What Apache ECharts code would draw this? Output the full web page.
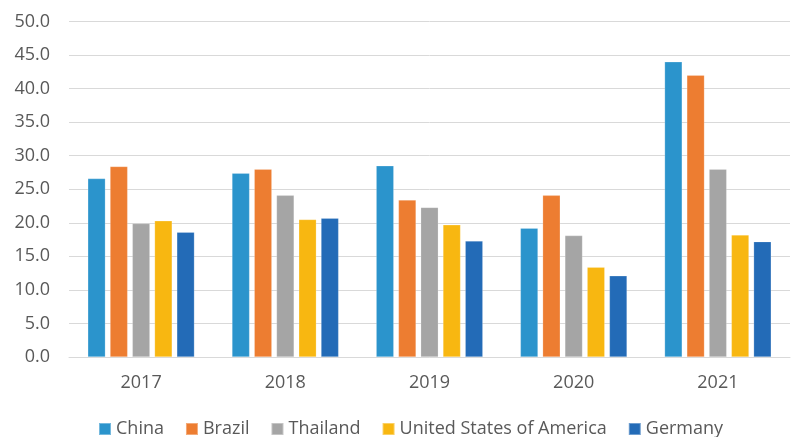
<!DOCTYPE html>
<html><head><meta charset="utf-8">
<script src="https://cdn.jsdelivr.net/npm/echarts@6/dist/echarts.min.js"></script>
<style>html,body{margin:0;padding:0;background:#fff}#c{width:795px;height:437px}</style>
</head><body><div id="c"></div>
<script>
const years = ['2017','2018','2019','2020','2021'];
const china = [26.6, 27.4, 28.5, 19.2, 44.0];
const brazil = [28.4, 28.0, 23.4, 24.1, 42.0];
const thailand = [19.9, 24.1, 22.3, 18.1, 28.0];
const usa = [20.3, 20.5, 19.7, 13.4, 18.2];
const germany = [18.6, 20.7, 17.3, 12.1, 17.2];
const yTicks = ['0.0','5.0','10.0','15.0','20.0','25.0','30.0','35.0','40.0','45.0','50.0'];

const names = ['China','Brazil','Thailand','United States of America','Germany'];
const colors = ['#2B94CC','#ED7D31','#A5A5A5','#F8B711','#236BB7'];
const datas = [china, brazil, thailand, usa, germany];
const font = '"Open Sans", "Noto Sans", sans-serif';

const chart = echarts.init(document.getElementById('c'));
chart.setOption({
  animation: false,
  textStyle: {fontFamily: font},
  grid: {left: 69, right: 5, top: 21.5, bottom: 80},
  legend: {
    left: 98, top: 420, padding: 0, itemWidth: 12, itemHeight: 12, itemGap: 21,
    icon: 'rect',
    textStyle: {fontSize: 18, color: '#595959', fontFamily: font},
    data: names
  },
  xAxis: {
    type: 'category', data: years,
    axisLine: {lineStyle: {color: '#D9D9D9', width: 1}},
    axisTick: {show: false},
    axisLabel: {fontSize: 18, color: '#595959', margin: 17, fontFamily: font}
  },
  yAxis: {
    type: 'value', min: 0, max: 50, interval: 5,
    axisLine: {show: false}, axisTick: {show: false},
    splitLine: {lineStyle: {color: '#D9D9D9', width: 1}},
    axisLabel: {fontSize: 18, color: '#595959', margin: 19, fontFamily: font,
      formatter: v => yTicks[Math.round(v/5)]}
  },
  series: names.map((n,i) => ({
    name: n, type: 'bar', data: datas[i],
    barGap: '26%', barCategoryGap: '26%',
    itemStyle: {color: colors[i], borderColor: 'rgba(255,255,255,0.35)', borderWidth: 0.6}
  }))
});
</script></body></html>
